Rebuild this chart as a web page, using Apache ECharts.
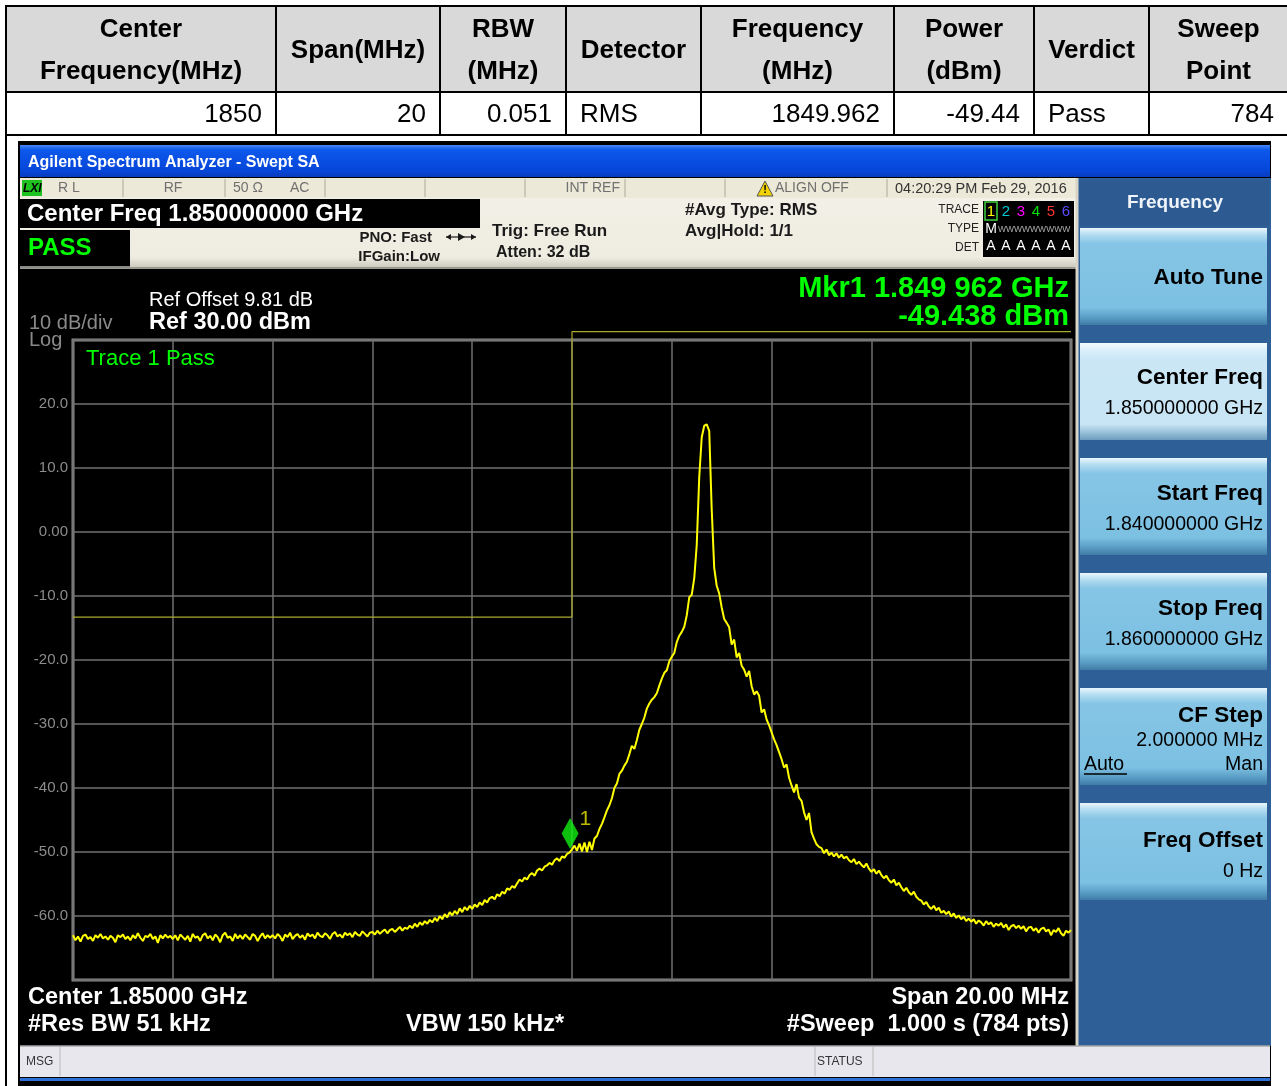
<!DOCTYPE html>
<html><head><meta charset="utf-8">
<script src="https://cdn.jsdelivr.net/npm/echarts@6/dist/echarts.min.js"></script>
<style>
html,body{margin:0;padding:0;background:#fff;width:1287px;height:1086px;overflow:hidden;font-family:'Liberation Sans',Arial,sans-serif;}
#chart{position:absolute;left:0;top:0;width:1287px;height:1086px;z-index:1;}
#tbl{position:absolute;left:5px;top:5px;border-collapse:collapse;table-layout:fixed;z-index:2;width:1282px;}
#tbl td,#tbl th{border:2px solid #000;font-size:26px;padding:0;color:#000;}
#tbl th{background:#d9d9d9;font-weight:bold;line-height:42px;text-align:center;}
#tbl tr.h{height:86px;}
#tbl tr.d{height:43px;}
#tbl td.r{text-align:right;padding-right:13px;}
#tbl td.l{text-align:left;padding-left:13px;}
#cellL{position:absolute;left:5px;top:133px;width:2px;height:960px;background:#000;z-index:2;}
</style></head>
<body>
<div id="chart"></div>
<table id="tbl"><colgroup id="cols"></colgroup><tr class="h" id="hrow"></tr><tr class="d" id="drow"></tr></table>
<div id="cellL"></div>
<script>
// ---------------- data ----------------
const TABLE_HEADERS = ['Center\nFrequency(MHz)','Span(MHz)','RBW\n(MHz)','Detector','Frequency\n(MHz)','Power\n(dBm)','Verdict','Sweep\nPoint'];
const TABLE_VALUES  = ['1850','20','0.051','RMS','1849.962','-49.44','Pass','784'];

const START_MHZ = 1840;
const STOP_MHZ = 1860;
const STEP_MHZ = 0.05;
const TRACE_DBM = [
-63.0,-63.8,-63.2,-64.0,-63.1,-62.9,-63.6,-63.3,-63.9,-63.0,
-63.4,-62.8,-63.5,-63.2,-63.7,-63.1,-63.4,-64.1,-63.0,-63.3,
-62.9,-63.6,-63.2,-63.8,-63.0,-63.5,-62.7,-63.4,-63.9,-63.1,
-63.3,-62.8,-63.6,-63.2,-64.2,-63.0,-63.5,-62.9,-63.4,-63.1,
-63.6,-63.0,-63.8,-62.9,-63.3,-63.7,-63.1,-64.0,-62.8,-63.4,
-63.2,-63.9,-63.0,-62.7,-63.5,-63.1,-63.8,-62.9,-63.3,-64.1,
-63.0,-62.6,-63.4,-63.2,-63.9,-62.8,-63.5,-63.0,-63.6,-62.9,
-63.3,-63.7,-62.8,-63.1,-63.9,-63.2,-62.7,-63.5,-63.0,-63.4,
-63.0,-63.5,-62.8,-63.2,-63.9,-62.9,-63.3,-62.6,-63.6,-63.1,
-62.8,-63.4,-63.0,-63.7,-62.7,-63.2,-62.9,-63.5,-62.6,-63.1,
-63.3,-62.7,-63.0,-63.6,-62.8,-62.5,-63.2,-62.9,-63.4,-62.6,
-63.0,-62.7,-63.3,-62.5,-62.9,-63.1,-62.4,-62.8,-63.2,-62.6,
-62.5,-62.9,-62.3,-62.8,-62.4,-62.1,-62.7,-62.2,-62.0,-62.5,
-62.1,-61.7,-62.3,-61.8,-62.0,-61.5,-61.9,-61.2,-61.7,-61.0,
-61.4,-60.8,-61.2,-60.6,-61.0,-60.3,-60.8,-60.0,-60.5,-59.7,
-60.2,-59.4,-59.9,-59.2,-59.7,-58.8,-59.4,-58.6,-59.1,-58.4,
-58.9,-58.2,-58.6,-57.9,-58.3,-57.5,-57.9,-57.2,-57.0,-57.4,
-56.6,-56.9,-56.2,-56.5,-55.7,-55.9,-55.3,-55.6,-54.9,-54.3,
-54.6,-54.0,-54.3,-53.6,-53.3,-53.7,-52.9,-52.6,-52.9,-52.3,
-52.1,-51.7,-52.0,-51.3,-51.0,-51.4,-50.7,-50.9,-50.3,-50.1,
-49.6,-49.0,-49.8,-48.7,-49.9,-48.5,-50.0,-48.4,-49.7,-47.9,
-47.5,-46.4,-45.6,-44.6,-43.5,-42.7,-41.6,-40.0,-39.3,-37.8,
-37.3,-36.5,-35.9,-34.7,-33.4,-33.9,-32.5,-30.9,-30.0,-29.0,
-27.6,-26.8,-26.2,-25.8,-25.2,-24.0,-22.9,-22.0,-21.6,-20.2,
-19.5,-18.9,-17.2,-16.2,-15.6,-14.8,-13.0,-10.2,-9.8,-7.2,
-2.0,8.6,14.8,16.6,16.8,15.8,3.5,-5.6,-8.4,-9.6,
-11.8,-13.6,-14.2,-14.9,-17.6,-16.8,-19.6,-18.9,-20.9,-21.5,
-22.6,-21.7,-24.1,-25.4,-24.9,-25.6,-28.2,-27.7,-29.3,-30.2,
-31.3,-32.4,-33.3,-34.4,-35.5,-36.8,-36.3,-38.4,-39.6,-40.7,
-39.4,-41.5,-42.0,-43.8,-45.0,-43.9,-46.9,-47.9,-48.8,-49.2,
-49.4,-50.2,-49.6,-50.5,-50.1,-50.7,-50.2,-50.9,-50.4,-51.0,
-50.7,-51.3,-51.6,-51.1,-51.9,-51.5,-52.0,-52.4,-51.8,-52.6,
-53.1,-52.7,-53.4,-52.9,-53.6,-54.1,-53.7,-54.4,-54.8,-54.3,
-55.2,-54.8,-55.5,-56.1,-55.6,-56.3,-56.7,-56.2,-57.0,-57.4,
-57.6,-58.2,-57.8,-58.5,-58.9,-58.4,-59.1,-58.7,-59.5,-59.2,
-59.7,-59.3,-60.1,-59.6,-60.3,-59.9,-60.5,-60.1,-60.8,-60.4,
-60.9,-60.5,-61.2,-60.7,-61.0,-61.5,-60.8,-61.3,-61.0,-61.7,
-61.2,-61.5,-61.1,-61.8,-61.3,-62.2,-61.6,-61.4,-61.9,-61.5,
-62.0,-61.6,-62.4,-61.8,-61.7,-62.3,-61.9,-62.6,-62.0,-61.8,
-62.4,-62.1,-63.0,-62.2,-62.5,-61.9,-62.7,-63.1,-62.3,-62.6,-62.2
];
const LIMIT_MHZ = [1840, 1850, 1850, 1860];
const LIMIT_DBM = [-13.3, -13.3, 31.3, 31.3];
const MARKER_MHZ = 1849.962;
const MARKER_DBM = -49.438;
const Y_MIN = -70, Y_MAX = 30, Y_STEP = 10;
const X_STEP = 2;

// ---------------- table ----------------
(function(){
  const widths = [270,164,126,135,193,140,115,139];
  const leftCols = [3,6];
  const cols = document.getElementById('cols');
  widths.forEach(w=>{const c=document.createElement('col');c.style.width=w+'px';cols.appendChild(c);});
  const hr = document.getElementById('hrow'), dr = document.getElementById('drow');
  TABLE_HEADERS.forEach(h=>{const th=document.createElement('th');h.split('\n').forEach((p,i)=>{if(i)th.appendChild(document.createElement('br'));th.appendChild(document.createTextNode(p));});hr.appendChild(th);});
  TABLE_VALUES.forEach((v,i)=>{const td=document.createElement('td');td.textContent=v;td.className=leftCols.includes(i)?'l':'r';dr.appendChild(td);});
})();

// ---------------- chart ----------------
const F = "'Liberation Sans', Arial, sans-serif";
const G = [];
function R(x,y,w,h,fill,o){G.push(Object.assign({type:'rect',shape:{x:x,y:y,width:w,height:h},style:{fill:fill},z:-5,silent:true},o||{}));}
function T(x,y,text,font,fill,align,o){G.push(Object.assign({type:'text',x:x,y:y+1.5,style:{text:text,font:font,fill:fill,align:align||'left',textAlign:align||'left',verticalAlign:'middle',textVerticalAlign:'middle'},z:50,silent:true},o||{}));}
function L(x1,y1,x2,y2,stroke,w,o){G.push(Object.assign({type:'line',shape:{x1:x1,y1:y1,x2:x2,y2:y2},style:{stroke:stroke,lineWidth:w||1},z:-4,silent:true},o||{}));}
function P(points,fill,o){G.push(Object.assign({type:'polygon',shape:{points:points},style:{fill:fill},z:-3,silent:true},o||{}));}
const LG = (stops)=>new echarts.graphic.LinearGradient(0,0,0,1,stops.map(s=>({offset:s[0],color:s[1]})));

// frame
R(18,141,1253,945,'#000',{z:-10});
// title bar
R(20,145,1250,32,LG([[0,'#4a86f5'],[0.15,'#0d58ec'],[0.8,'#0646d9'],[1,'#0a3bbd']]));
T(28,161,'Agilent Spectrum Analyzer - Swept SA','bold 16px '+F,'#ffffff');
// status row
R(20,178,1057,20,'#ece9d8');
[123,225,325,425,525,625,725,887].forEach(x=>L(x,179,x,197,'#aca899',1));
R(22,180,20,16,'#1fc21f',{z:-3});
T(23,187,'LXI','italic bold 12px '+F,'#000');
const SF = '14px '+F, SC = '#707070';
T(58,187,'R L',SF,SC);
T(173,187,'RF',SF,SC,'center');
T(233,187,'50 Ω',SF,SC);
T(290,187,'AC',SF,SC);
T(620,187,'INT REF',SF,SC,'right');
P([[757,196],[765,181],[773,196]],'#f3d400',{style:{fill:'#f3d400',stroke:'#555',lineWidth:1}});
T(765,188.5,'!','bold 11px '+F,'#000','center');
T(775,187,'ALIGN OFF',SF,SC);
T(895,187,'04:20:29 PM Feb 29, 2016','14.5px '+F,'#333');
// row 2
R(20,198,1057,70,LG([[0,'#f3f0e7'],[0.85,'#eeebe0'],[1,'#c9c6bb']]));
R(20,199,460,29,'#000',{z:-3});
T(27,213,'Center Freq 1.850000000 GHz','bold 24px '+F,'#ffffff');
R(20,230,110,36,'#000',{z:-3});
L(20,267,130,267,'#8a8a8a',2,{z:-2});
T(28,247,'PASS','bold 24px '+F,'#00ff00');
T(432,236,'PNO: Fast','bold 15px '+F,'#1a1a1a','right');
L(446,237,476,237,'#1a1a1a',1.2,{z:-2});
P([[446,237],[451,234],[451,240]],'#1a1a1a');
P([[476,237],[471,234],[471,240]],'#1a1a1a');
P([[465,237],[458,233],[458,241]],'#1a1a1a');
T(440,255,'IFGain:Low','bold 15px '+F,'#1a1a1a','right');
T(492,230,'Trig: Free Run','bold 17px '+F,'#1a1a1a');
T(496,251,'Atten: 32 dB','bold 16px '+F,'#1a1a1a');
T(685,209,'#Avg Type: RMS','bold 17px '+F,'#1a1a1a');
T(685,230,'Avg|Hold: 1/1','bold 17px '+F,'#1a1a1a');
T(979,208,'TRACE','12px '+F,'#222','right');
T(979,227,'TYPE','12px '+F,'#222','right');
T(979,246,'DET','12px '+F,'#222','right');
R(983,201,91,56,'#000',{z:-3});
G.push({type:'rect',shape:{x:985,y:202,width:12,height:18},style:{fill:'none',stroke:'#3fcf3f',lineWidth:1.5},z:-2,silent:true});
[['1','#ffff00'],['2','#00c8d0'],['3','#ff00ff'],['4','#00e000'],['5','#ff3333'],['6','#5a4dff']].forEach((d,i)=>T(991+i*15,210,d[0],'15px '+F,d[1],'center'));
T(991,228,'M','14px '+F,'#fff','center');
T(998,228,'WWWWWWWWW','8.5px '+F,'#aaa');
['A','A','A','A','A','A'].forEach((a,i)=>T(991+i*15,245,a,'14px '+F,'#fff','center'));
L(20,268,1077,268,'#9a988f',2);
// right soft key panel
R(1077,178,194,868,'#2f5f97');
L(1077,178,1077,1046,'#d8d4c8',3);
R(1079,180,190,46,'#2c5a91');
T(1175,201,'Frequency','bold 19px '+F,'#eef4fa','center');
const KEY_TOPS=[228,343,458,573,688,803];
KEY_TOPS.forEach((y,i)=>{
  const hi = i===1;
  R(1080,y,187,97,hi?LG([[0,'#f5fbfe'],[0.07,'#dbf0fa'],[0.16,'#cbe7f6'],[0.84,'#c7e4f4'],[0.93,'#93bdd6'],[1,'#6b9cbd']]):LG([[0,'#eaf6fc'],[0.07,'#b3dcf1'],[0.16,'#86c5e5'],[0.82,'#7cc0e2'],[0.92,'#5b9ec5'],[1,'#3f7ca7']]));
});
const KB='bold 22.5px '+F, KV='19.5px '+F;
T(1263,276,'Auto Tune',KB,'#000','right');
T(1263,376,'Center Freq',KB,'#000','right');
T(1263,407,'1.850000000 GHz',KV,'#000','right');
T(1263,492,'Start Freq',KB,'#000','right');
T(1263,523,'1.840000000 GHz',KV,'#000','right');
T(1263,607,'Stop Freq',KB,'#000','right');
T(1263,638,'1.860000000 GHz',KV,'#000','right');
T(1263,714,'CF Step',KB,'#000','right');
T(1263,739,'2.000000 MHz',KV,'#000','right');
T(1084,763,'Auto',KV,'#000');
L(1084,774,1127,774,'#000',1.5,{z:51});
T(1263,763,'Man',KV,'#000','right');
T(1263,839,'Freq Offset',KB,'#000','right');
T(1263,870,'0 Hz',KV,'#000','right');
// bottom status bar
R(20,1046,1250,31,'#e9e7ee');
L(20,1046,1270,1046,'#a6a6a6',1.5);
[60,815,873].forEach(x=>L(x,1047,x,1076,'#b8b8b8',1));
T(26,1060,'MSG','12px '+F,'#333');
T(817,1060,'STATUS','12px '+F,'#333');
R(20,1078,1250,3,'#2e6fd8');
// plot texts
T(29,322,'10 dB/div','20px '+F,'#8a8a8a');
T(29,339,'Log','20px '+F,'#8a8a8a');
T(149,299,'Ref Offset 9.81 dB','20px '+F,'#ffffff');
T(149,321,'Ref 30.00 dBm','bold 23.5px '+F,'#ffffff');
T(86,357,'Trace 1 Pass','22px '+F,'#00ff00');
T(1069,287,'Mkr1 1.849 962 GHz','bold 29px '+F,'#00ff00','right');
T(1069,315,'-49.438 dBm','bold 29px '+F,'#00ff00','right');
T(28,996,'Center 1.85000 GHz','bold 23.5px '+F,'#ffffff');
T(28,1023,'#Res BW 51 kHz','bold 23.5px '+F,'#ffffff');
T(406,1023,'VBW 150 kHz*','bold 23.5px '+F,'#ffffff');
T(1069,996,'Span 20.00 MHz','bold 23.5px '+F,'#ffffff','right');
T(1069,1023,'#Sweep  1.000 s (784 pts)','bold 23.5px '+F,'#ffffff','right');

const traceData = TRACE_DBM.map((v,i)=>[+(START_MHZ+i*STEP_MHZ).toFixed(3), v]);
const limitData = LIMIT_MHZ.map((f,i)=>[f, LIMIT_DBM[i]]);

const chart = echarts.init(document.getElementById('chart'), null, {renderer:'canvas'});
chart.setOption({
  animation:false,
  backgroundColor:'transparent',
  graphic:{elements:G},
  grid:{left:73,top:340,width:998,height:640,show:true,borderColor:'#8c8c8c',borderWidth:3,backgroundColor:'transparent'},
  xAxis:{type:'value',min:START_MHZ,max:STOP_MHZ,interval:X_STEP,axisLine:{show:false},axisTick:{show:false},axisLabel:{show:false},
    splitLine:{show:true,lineStyle:{color:'#707070',width:1.5}}},
  yAxis:{type:'value',min:Y_MIN,max:Y_MAX,interval:Y_STEP,axisLine:{show:false},axisTick:{show:false},
    axisLabel:{margin:5,color:'#8c8c8c',fontSize:15,fontFamily:F,
      formatter:v=>(v===Y_MAX||v===Y_MIN)?'':(v===0?'0.00':v.toFixed(1))},
    splitLine:{show:true,lineStyle:{color:'#707070',width:1.5}}},
  series:[
    {type:'line',data:limitData,symbol:'none',silent:true,clip:false,z:4,lineStyle:{color:'#aaaa30',width:1.2}},
    {type:'line',data:traceData,symbol:'none',showSymbol:false,silent:true,z:5,lineStyle:{color:'#ffff00',width:2}},
    {type:'scatter',data:[[MARKER_MHZ,MARKER_DBM]],symbol:'diamond',symbolSize:[17,31],symbolOffset:[0,-15],silent:true,z:6,
      itemStyle:{color:'#10f010'},
      label:{show:true,formatter:'1',position:'right',distance:1,offset:[0,-14],color:'#e8e800',fontSize:21,fontFamily:F}}
  ]
});
</script>
</body></html>
